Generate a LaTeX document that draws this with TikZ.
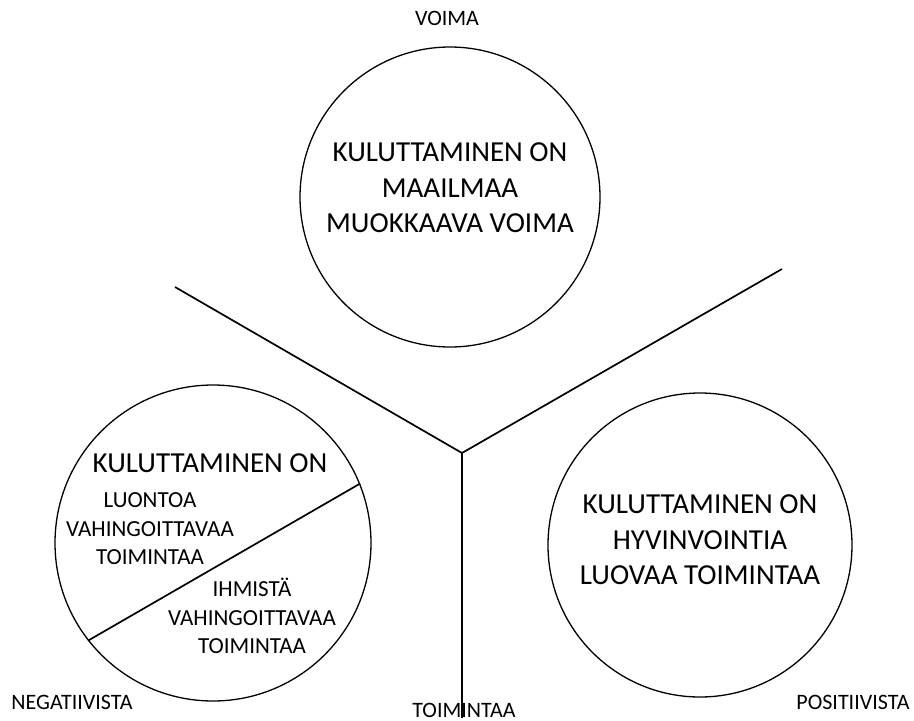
\documentclass[tikz,border=0pt]{standalone}
\usepackage{fontspec}
\setmainfont{Carlito}

\begin{document}
\begin{tikzpicture}[x=1pt,y=-1pt]

      \useasboundingbox (0,0) rectangle (914,721);

      \begin{scope}[every node/.style={circle,draw,line width=1.3pt,inner sep=0pt}]
        \node[minimum size=300pt] (voima) at (450,197) {};
        \node[minimum size=316pt] (neg) at (213,543) {};
        \node[minimum size=304pt] (pos) at (700,545) {};
      \end{scope}

      \coordinate (hub) at (462,453);
      \coordinate (vasen) at (175,287);
      \coordinate (oikea) at (782,269);
      \coordinate (ala) at (462,718);

      \begin{scope}[every edge/.style={draw,line width=1.7pt}]
        \path (hub) edge (vasen);
        \path (hub) edge (oikea);
        \path (hub) edge (ala);
        \path (neg.218) edge (neg.22);
      \end{scope}

      \begin{scope}[every node/.style={align=center,font=\fontsize{29}{35.5}\selectfont}]
        \node (voimateksti) at (450,188) {KULUTTAMINEN ON\\MAAILMAA\\MUOKKAAVA VOIMA};
        \node (negotsikko) at (210,463) {KULUTTAMINEN ON};
        \node (posteksti) at (700,540) {KULUTTAMINEN ON\\HYVINVOINTIA\\LUOVAA TOIMINTAA};
      \end{scope}

      \begin{scope}[every node/.style={align=center,font=\fontsize{23}{28.5}\selectfont}]
        \node (luonto) at (150,529) {LUONTOA\\VAHINGOITTAVAA\\TOIMINTAA};
        \node (ihminen) at (252,616) {IHMISTÄ\\VAHINGOITTAVAA\\TOIMINTAA};
      \end{scope}

      \begin{scope}[every node/.style={font=\fontsize{22}{26}\selectfont}]
        \node (ylä) at (447,18) {VOIMA};
        \node (negatiivista) at (72,702) {NEGATIIVISTA};
        \node (toimintaa) at (464,710) {TOIMINTAA};
        \node (positiivista) at (853,702) {POSITIIVISTA};
      \end{scope}

    \end{tikzpicture}
\end{document}
